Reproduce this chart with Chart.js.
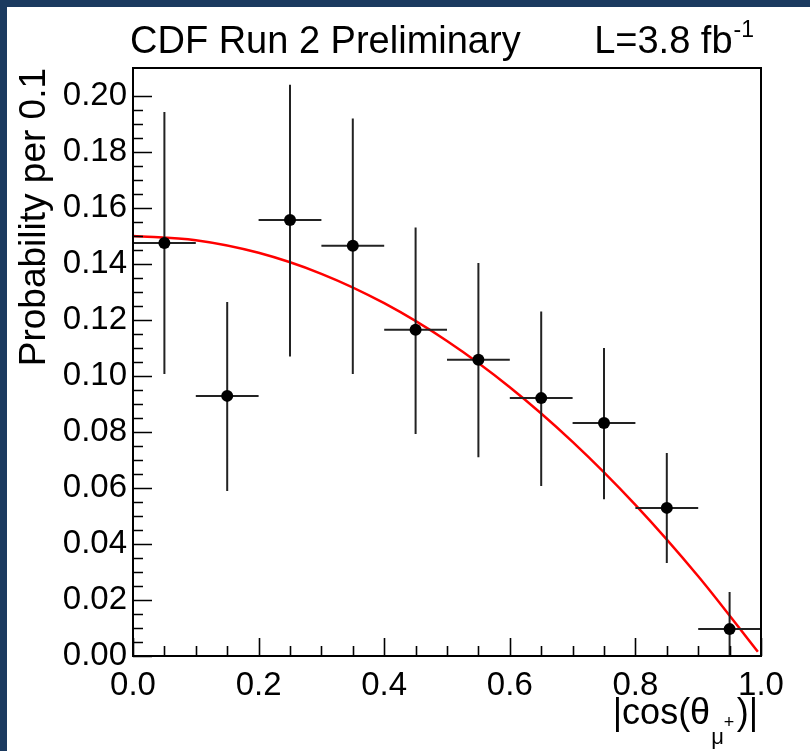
<!DOCTYPE html>
<html>
<head>
<meta charset="utf-8">
<script src="https://cdn.jsdelivr.net/npm/chart.js@4.4.1/dist/chart.umd.min.js"></script>
<style>
	body { margin: 0; background: #fff; }
	#frame { width: 803px; height: 744px; border-top: 7px solid #1b3a5f; border-left: 7px solid #1b3a5f; }
</style>
</head>
<body>
<div id="frame"><canvas id="c" width="803" height="744"></canvas></div>
<script>
// bin centres of |cos(theta)|, bin width 0.1
const binCenters = [0.05, 0.15, 0.25, 0.35, 0.45, 0.55, 0.65, 0.75, 0.85, 0.95]
const binWidth = 0.1
const prob = [0.1475, 0.0929, 0.1557, 0.1465, 0.1165, 0.1058, 0.0921, 0.0832, 0.0529, 0.0096]
const probHi = [0.1943, 0.1264, 0.2040, 0.1920, 0.1530, 0.1404, 0.1230, 0.1100, 0.0725, 0.0229]
const probLo = [0.1007, 0.0589, 0.1070, 0.1007, 0.0793, 0.0710, 0.0607, 0.0560, 0.0332, 0.0000]

// fit curve
const fitX = [0.0, 0.1, 0.2, 0.3, 0.4, 0.5, 0.6, 0.7, 0.8, 0.9, 0.995]
const fitY = [0.150, 0.1485, 0.144, 0.1365, 0.126, 0.1125, 0.096, 0.0765, 0.054, 0.0285, 0.0015]

const xTicks = [0.0, 0.2, 0.4, 0.6, 0.8, 1.0]
const yTicks = [0.00, 0.02, 0.04, 0.06, 0.08, 0.10, 0.12, 0.14, 0.16, 0.18, 0.20]

const font = "'Liberation Sans', Arial, Helvetica, sans-serif"

function minorTicks(major, n) {
	let out = []
	for (let i = 0; i < major.length - 1; i++) {
		let step = (major[i + 1] - major[i]) / n
		for (let k = 1; k < n; k++) out.push(major[i] + k * step)
	}
	return out
}

let vBars = []
let hBars = []
for (let i = 0; i < binCenters.length; i++) {
	vBars.push({x: binCenters[i], y: probLo[i]}, {x: binCenters[i], y: probHi[i]}, {x: binCenters[i], y: null})
	hBars.push({x: binCenters[i] - binWidth / 2, y: prob[i]}, {x: binCenters[i] + binWidth / 2, y: prob[i]}, {x: binCenters[i], y: null})
}

const frameAndTicks = {
	id: "frameAndTicks",
	afterDatasetsDraw(chart) {
		const ctx = chart.ctx
		const a = chart.chartArea
		const xs = chart.scales.x, ys = chart.scales.y
		ctx.save()
		ctx.strokeStyle = "#000"
		ctx.lineWidth = 2
		ctx.strokeRect(a.left, a.top, a.right - a.left, a.bottom - a.top)
		ctx.lineWidth = 1.6
		ctx.beginPath()
		for (let v of yTicks) {
			let p = Math.round(ys.getPixelForValue(v)) + 0.5
			ctx.moveTo(a.left, p); ctx.lineTo(a.left + 19, p)
		}
		for (let v of minorTicks(yTicks, 4)) {
			let p = Math.round(ys.getPixelForValue(v)) + 0.5
			ctx.moveTo(a.left, p); ctx.lineTo(a.left + 10, p)
		}
		for (let v of xTicks) {
			let p = Math.round(xs.getPixelForValue(v)) + 0.5
			ctx.moveTo(p, a.bottom); ctx.lineTo(p, a.bottom - 18)
		}
		for (let v of minorTicks(xTicks, 4)) {
			let p = Math.round(xs.getPixelForValue(v)) + 0.5
			ctx.moveTo(p, a.bottom); ctx.lineTo(p, a.bottom - 10)
		}
		ctx.stroke()
		ctx.restore()
	},
	afterDraw(chart) {
		const ctx = chart.ctx
		const a = chart.chartArea
		ctx.save()
		ctx.fillStyle = "#000"
		ctx.textBaseline = "alphabetic"
		// top title
		ctx.font = "38px " + font
		ctx.textAlign = "left"
		ctx.fillText("CDF Run 2 Preliminary", a.left - 3, 46)
		ctx.font = "23px " + font
		let supW = ctx.measureText("-1").width
		ctx.font = "38px " + font
		let lw = ctx.measureText("L=3.8 fb").width
		let lx = a.right - 8 - supW - lw
		ctx.fillText("L=3.8 fb", lx, 46)
		ctx.font = "23px " + font
		ctx.fillText("-1", lx + lw + 1, 30)
		// y axis title
		ctx.save()
		ctx.translate(38, a.top)
		ctx.rotate(-Math.PI / 2)
		ctx.textAlign = "right"
		ctx.font = "37px " + font
		ctx.fillText("Probability per 0.1", 0, 0)
		ctx.restore()
		// x axis title
		ctx.textAlign = "left"
		ctx.font = "36px " + font
		let w1 = ctx.measureText("|cos(θ").width
		let w3 = ctx.measureText(")|").width
		ctx.font = "22px " + font
		let w2 = ctx.measureText("μ").width
		let w4 = ctx.measureText("+").width
		let x0 = a.right - 4 - w3 - w4 - w2 - w1
		let base = 717
		ctx.font = "36px " + font
		ctx.fillText("|cos(θ", x0, base)
		ctx.font = "22px " + font
		ctx.fillText("μ", x0 + w1 + 1, base + 20)
		ctx.font = "18px " + font
		ctx.fillText("+", x0 + w1 + w2 + 1, base + 4)
		ctx.font = "36px " + font
		ctx.fillText(")|", x0 + w1 + w2 + w4 + 1, base)
		ctx.restore()
	}
}

const ctx = document.getElementById("c").getContext("2d")
const chart = new Chart(ctx, {
	type: "scatter",
	data: {
		datasets: [
			{
				label: "fit",
				data: fitX.map((x, i) => ({x, y: fitY[i]})),
				showLine: true,
				borderColor: "#ff0000",
				borderWidth: 2.5,
				pointRadius: 0,
				cubicInterpolationMode: "monotone",
				order: 3
			},
			{
				label: "vertical errors",
				data: vBars,
				showLine: true,
				spanGaps: false,
				borderColor: "#222",
				borderWidth: 2,
				pointRadius: 0,
				order: 2
			},
			{
				label: "bin widths",
				data: hBars,
				showLine: true,
				spanGaps: false,
				borderColor: "#222",
				borderWidth: 2,
				pointRadius: 0,
				order: 2
			},
			{
				label: "data",
				data: binCenters.map((x, i) => ({x, y: prob[i]})),
				showLine: false,
				pointRadius: 6,
				pointBackgroundColor: "#000",
				pointBorderColor: "#000",
				pointBorderWidth: 0,
				order: 1
			}
		]
	},
	plugins: [frameAndTicks],
	options: {
		responsive: false,
		animation: false,
		events: [],
		layout: {
			padding: {left: 0, top: 61, right: 49, bottom: 0}
		},
		plugins: {
			legend: {display: false},
			tooltip: {enabled: false}
		},
		scales: {
			x: {
				type: "linear",
				min: 0,
				max: 1,
				afterBuildTicks: scale => { scale.ticks = xTicks.map(v => ({value: v})) },
				afterFit: scale => { scale.height = 95 },
				grid: {display: false, drawTicks: false},
				border: {display: false},
				ticks: {
					color: "#000",
					padding: 10,
					maxRotation: 0,
					font: {family: font, size: 33},
					callback: v => v.toFixed(1)
				}
			},
			y: {
				type: "linear",
				min: 0,
				max: 0.21,
				afterBuildTicks: scale => { scale.ticks = yTicks.map(v => ({value: v})) },
				afterFit: scale => { scale.width = 126 },
				grid: {display: false, drawTicks: false},
				border: {display: false},
				ticks: {
					color: "#000",
					padding: 6,
					font: {family: font, size: 33},
					callback: v => v.toFixed(2)
				}
			}
		}
	}
})
</script>
</body>
</html>
